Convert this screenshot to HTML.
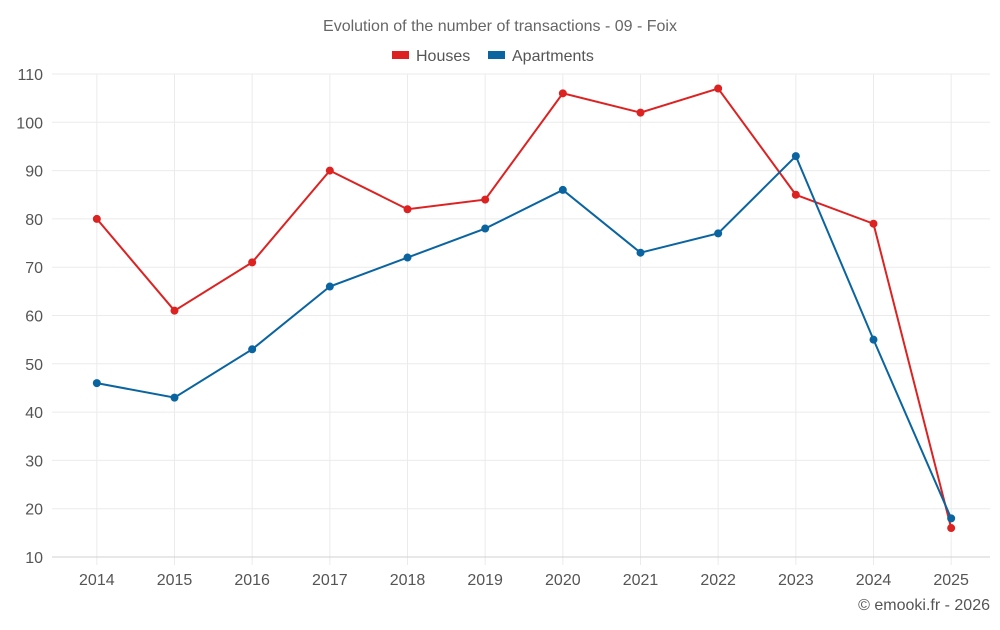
<!DOCTYPE html>
<html><head><meta charset="utf-8"><style>
body{margin:0;background:#fff;font-family:"Liberation Sans",sans-serif;}
svg text{font-family:"Liberation Sans",sans-serif;}
</style></head><body>
<svg id="chart" width="1000" height="625">
<text x="500" y="31" text-anchor="middle" font-size="16" fill="#666">Evolution of the number of transactions - 09 - Foix</text>
<g>
<g><rect x="392" y="51" width="17" height="8" fill="#dd2222"/><text x="416" y="61" font-size="16" fill="#555">Houses</text></g>
<g><rect x="488" y="51" width="17" height="8" fill="#0a64a0"/><text x="512" y="61" font-size="16" fill="#555">Apartments</text></g>
</g>
<g id="grid"></g>
<g id="axes"></g>
<g id="series"></g>
<text x="990" y="610" text-anchor="end" font-size="16" fill="#555">© emooki.fr - 2026</text>
</svg>
<script>
const categories=["2014","2015","2016","2017","2018","2019","2020","2021","2022","2023","2024","2025"];
const houses=[80,61,71,90,82,84,106,102,107,85,79,16];
const apartments=[46,43,53,66,72,78,86,73,77,93,55,18];
const yTicks=[10,20,30,40,50,60,70,80,90,100,110];
const L=58,R=990,T=74,B=557,yMin=10,yMax=110;
const NS="http://www.w3.org/2000/svg";
const bw=(R-L)/categories.length;
function x(i){return L+bw*(i+0.5);}
function y(v){return B-(v-yMin)/(yMax-yMin)*(B-T);}
function mk(t,a,p){const e=document.createElementNS(NS,t);for(const k in a)e.setAttribute(k,a[k]);p.appendChild(e);return e;}
const grid=document.getElementById('grid'),axes=document.getElementById('axes'),series=document.getElementById('series');
yTicks.forEach(v=>{
 const l=mk('line',{x1:52,x2:R,y1:y(v),y2:y(v),stroke:'#ebebeb'},grid);
 
 
 const t=mk('text',{x:43,y:y(v)+6,'text-anchor':'end','font-size':16,fill:'#555'},axes);
 t.textContent=v;
 
 
});
categories.forEach((c,i)=>{
 const l=mk('line',{x1:x(i),x2:x(i),y1:T,y2:B+8,stroke:'#ebebeb'},grid);
 
 
});
const ax=mk('line',{x1:52,x2:R,y1:B,y2:B,stroke:'#d0d0d0'},axes);


categories.forEach((c,i)=>{
 const t=mk('text',{x:x(i),y:B+28,'text-anchor':'middle','font-size':16,fill:'#555'},axes);
 t.textContent=c;
 
 
});
function draw(vals,color,name){
 const p=mk('polyline',{points:vals.map((v,i)=>x(i)+','+y(v)).join(' '),fill:'none',stroke:color,'stroke-width':2},series);
 
 
 vals.forEach((v,i)=>{
  const c=mk('circle',{cx:x(i),cy:y(v),r:4,fill:color},series);
  
  
 });
}
draw(houses,'#dd2222','houses');
draw(apartments,'#0a64a0','apartments');
</script>
</body></html>
